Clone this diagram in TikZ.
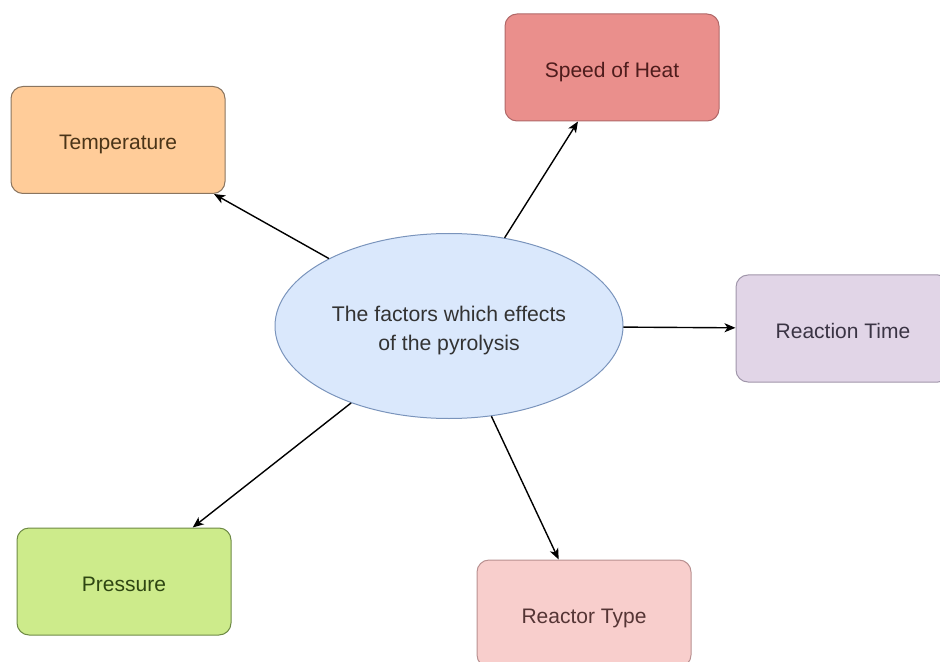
\documentclass[tikz,border=0pt]{standalone}
\usepackage{fontspec}
\setmainfont{Liberation Sans}
\usetikzlibrary{arrows.meta,shapes.geometric}

\definecolor{tempfill}{HTML}{FFCC99}
\definecolor{templine}{HTML}{8A7560}
\definecolor{temptext}{HTML}{4A3418}
\definecolor{heatfill}{HTML}{EA8F8C}
\definecolor{heatline}{HTML}{B06868}
\definecolor{heattext}{HTML}{4E1C1C}
\definecolor{timefill}{HTML}{E1D5E7}
\definecolor{timeline}{HTML}{A096AA}
\definecolor{timetext}{HTML}{3A3444}
\definecolor{presfill}{HTML}{CDEB8B}
\definecolor{presline}{HTML}{6E8A45}
\definecolor{prestext}{HTML}{2E4612}
\definecolor{typefill}{HTML}{F8CECC}
\definecolor{typeline}{HTML}{B89090}
\definecolor{typetext}{HTML}{553535}
\definecolor{mainfill}{HTML}{DAE8FC}
\definecolor{mainline}{HTML}{7A94BC}
\definecolor{maintext}{HTML}{333333}

\tikzset{
  factor/.style={draw, line width=0.5pt, rounded corners=6pt,
    minimum width=107pt, minimum height=53.5pt, text height=10pt, text depth=0pt,
    font=\fontsize{10.5}{12}\selectfont},
  link/.style={-{Stealth[length=5.5pt,width=4.5pt,inset=1.5pt]}, line width=0.7pt, black}
}

\begin{document}
\begin{tikzpicture}[x=0.5pt, y=-0.5pt]
  \useasboundingbox (0,0) rectangle (940,662);

  % Centre ellipse
  \node[ellipse, draw=mainline, fill=mainfill, line width=0.5pt, inner sep=0pt,
        minimum width=174pt, minimum height=92.5pt, align=center, text=maintext,
        text height=24.4pt, text depth=0pt,
        font=\fontsize{10.6}{14.5}\selectfont] (pyro) at (449,326)
        {The factors which effects\\of the pyrolysis};

  % Factor boxes
  \node[factor, draw=templine, fill=tempfill, text=temptext] (temp) at (118,140) {Temperature};
  \node[factor, draw=heatline, fill=heatfill, text=heattext] (heat) at (612,67.5) {Speed of Heat};
  \node[factor, draw=timeline, fill=timefill, text=timetext] (time) at (843,328.5) {Reaction Time};
  \node[factor, draw=presline, fill=presfill, text=prestext] (pres) at (124,581.5) {Pressure};
  \node[factor, draw=typeline, fill=typefill, text=typetext] (type) at (584,613.5) {Reactor Type};

  % Connectors
  \draw[link] (pyro) -- (temp);
  \draw[link] (pyro) -- (heat);
  \draw[link] (pyro) -- (time);
  \draw[link] (pyro) -- (pres);
  \draw[link] (pyro) -- (type);
\end{tikzpicture}
\end{document}
